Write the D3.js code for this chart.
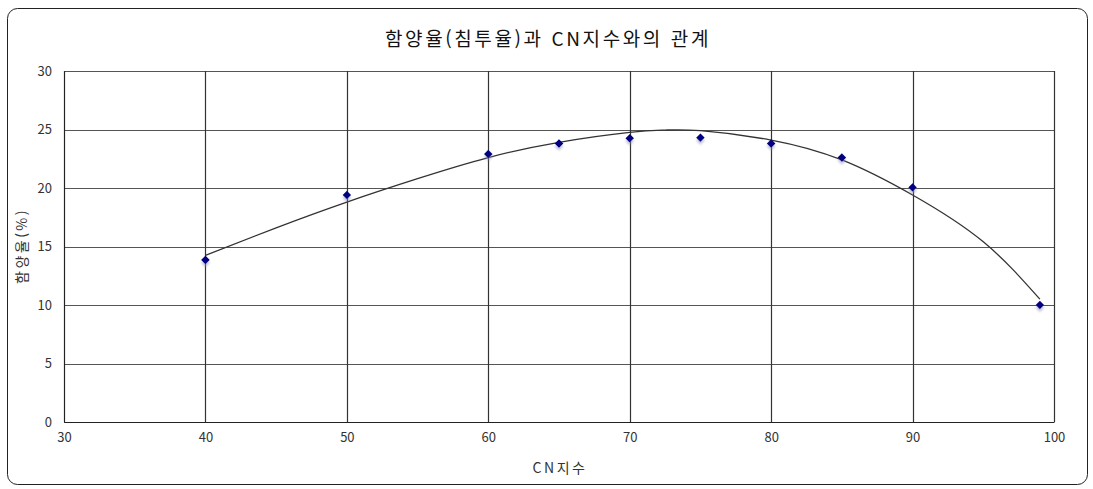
<!DOCTYPE html>
<html lang="ko">
<head>
    <meta charset="UTF-8">
    <script src="https://d3js.org/d3.v7.min.js"></script>
    <style>
        body { margin: 0; background: #fff; }
        text { font-family: "Noto Sans CJK KR", "Noto Sans", sans-serif; fill: #222; }
        .tick text { font-size: 13px; fill: #333; }
        .title { font-size: 19px; letter-spacing: 2.6px; text-anchor: middle; fill: #111; }
        .axis-title { font-size: 14px; letter-spacing: 2.5px; text-anchor: middle; fill: #333; }
    </style>
</head>
<body>
    <svg id="chart"></svg>
    <script>
        // measured points
        const cnIndex = [40, 50, 60, 65, 70, 75, 80, 85, 90, 99];
        const rate = [13.85, 19.4, 22.9, 23.8, 24.25, 24.3, 23.8, 22.6, 20.05, 10.0];

        // trend line
        const trendX = [40, 45, 50, 55, 60, 65, 70, 72.5, 75, 80, 85, 90, 95, 99];
        const trendY = [14.25, 16.6, 18.8, 20.8, 22.6, 23.9, 24.75, 24.95, 24.9, 24.1, 22.4, 19.4, 15.4, 10.5];

        const xTicks = [30, 40, 50, 60, 70, 80, 90, 100];
        const yTicks = [0, 5, 10, 15, 20, 25, 30];

        const width = 1093, height = 489;
        const margin = { top: 71, right: 39, bottom: 67, left: 64 };

        const svg = d3.select("#chart")
            .attr("width", width)
            .attr("height", height);

        const defs = svg.append("defs");
        const f = defs.append("filter").attr("id", "shadow")
            .attr("x", "-50%").attr("y", "-50%").attr("width", "250%").attr("height", "250%");
        f.append("feDropShadow").attr("dx", 2).attr("dy", 2).attr("stdDeviation", 1.2)
            .attr("flood-color", "#8888bb").attr("flood-opacity", 0.5);

        // outer frame
        svg.append("rect")
            .attr("x", 7.5).attr("y", 8.5)
            .attr("width", 1080).attr("height", 476)
            .attr("rx", 10)
            .attr("fill", "#fff").attr("stroke", "#222").attr("stroke-width", 1);

        const x = d3.scaleLinear().domain([30, 100]).range([margin.left, width - margin.right]);
        const y = d3.scaleLinear().domain([0, 30]).range([height - margin.bottom, margin.top]);

        // grid
        svg.append("g").selectAll("line")
            .data(yTicks)
            .enter().append("line")
            .attr("x1", x(30)).attr("x2", x(100))
            .attr("y1", d => Math.round(y(d)) + 0.5).attr("y2", d => Math.round(y(d)) + 0.5)
            .attr("stroke", "#555").attr("stroke-width", 1.2);

        svg.append("g").selectAll("line")
            .data(xTicks)
            .enter().append("line")
            .attr("x1", d => Math.round(x(d)) + 0.5).attr("x2", d => Math.round(x(d)) + 0.5)
            .attr("y1", y(0)).attr("y2", y(30))
            .attr("stroke", "#333").attr("stroke-width", 1.2);

        // axes
        svg.append("g")
            .attr("transform", `translate(0,${y(0)})`)
            .call(d3.axisBottom(x).tickValues(xTicks).tickSize(0).tickPadding(11))
            .call(g => g.select(".domain").attr("stroke", "#222"));

        svg.append("g")
            .attr("transform", `translate(${margin.left},0)`)
            .call(d3.axisLeft(y).tickValues(yTicks).tickSize(0).tickPadding(12))
            .call(g => g.select(".domain").attr("stroke", "#222"));

        // trend line
        const line = d3.line()
            .x((d, i) => x(trendX[i]))
            .y(d => y(d))
            .curve(d3.curveNatural);

        svg.append("path")
            .datum(trendY)
            .attr("d", line)
            .attr("fill", "none")
            .attr("stroke", "#333")
            .attr("stroke-width", 1.3);

        // markers
        svg.append("g").selectAll("path")
            .data(rate)
            .enter().append("path")
            .attr("d", d3.symbol(d3.symbolSquare, 36))
            .attr("transform", (d, i) => `translate(${x(cnIndex[i])},${y(d)}) rotate(45)`)
            .attr("fill", "#000080")
            .attr("filter", "url(#shadow)");

        // titles
        svg.append("text")
            .attr("class", "title")
            .attr("x", 548).attr("y", 46)
            .text("함양율(침투율)과 CN지수와의 관계");

        svg.append("text")
            .attr("class", "axis-title")
            .attr("x", 560).attr("y", 473)
            .text("CN지수");

        svg.append("text")
            .attr("class", "axis-title")
            .attr("transform", "translate(27,246) rotate(-90)")
            .text("함양율(%)");
    </script>
</body>
</html>
